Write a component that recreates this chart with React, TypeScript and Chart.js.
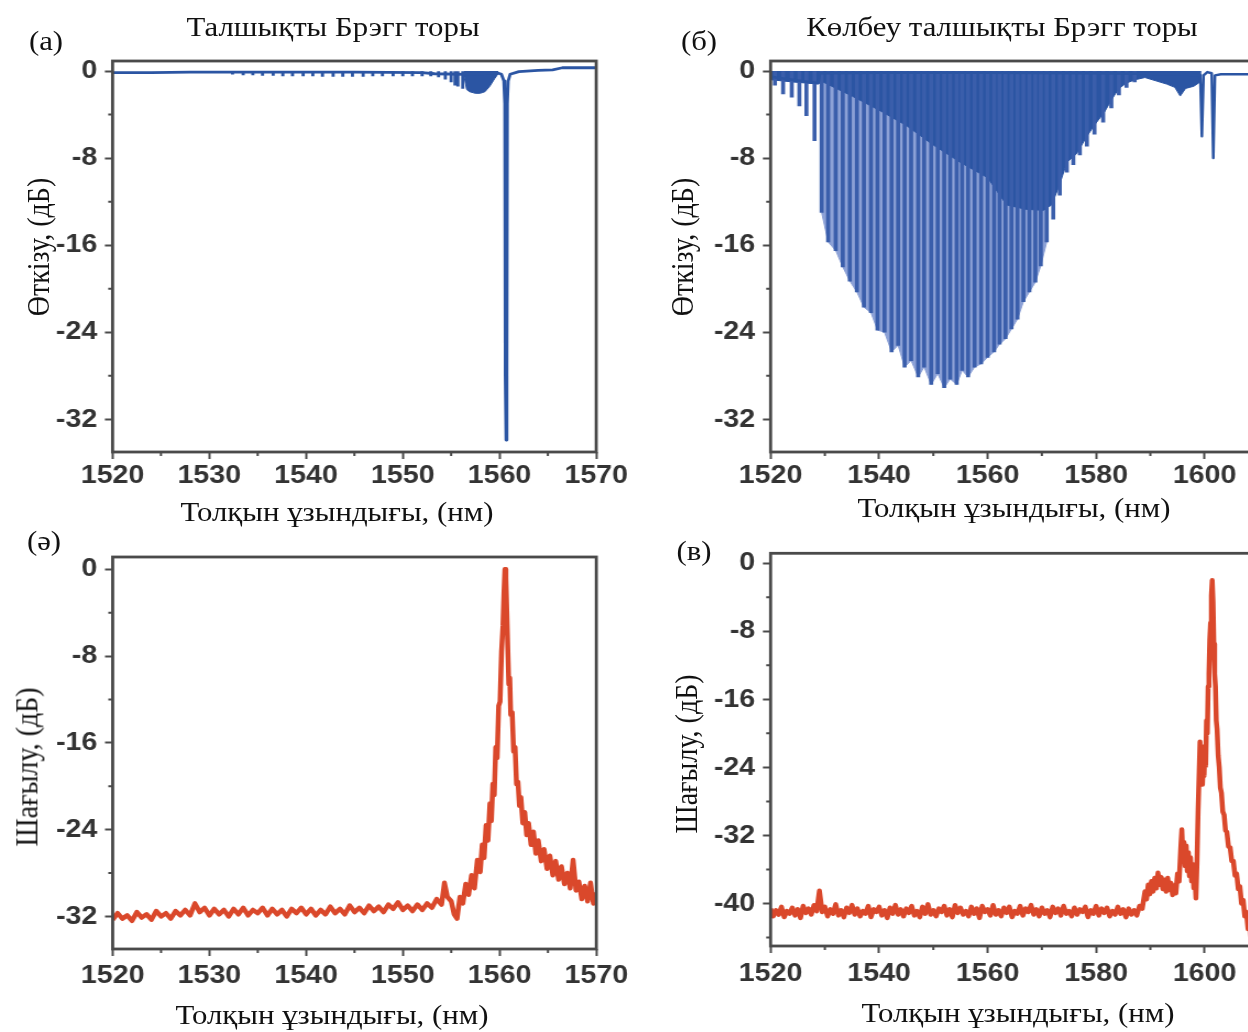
import React, { useEffect, useRef } from "react";
import { Chart, registerables } from "chart.js";

Chart.register(...registerables);

type Pt = [number, number];

// ---------------- ticks ----------------
const xTicksFbg = [1520, 1530, 1540, 1550, 1560, 1570];
const xMinorFbg = [1525, 1535, 1545, 1555, 1565];
const xTicksTfbg = [1520, 1540, 1560, 1580, 1600];
const xMinorTfbg = [1530, 1550, 1570, 1590, 1610];
const yTicks32 = [0, -8, -16, -24, -32];
const yMinor32 = [-4, -12, -20, -28];
const yTicks40 = [0, -8, -16, -24, -32, -40];
const yMinor40 = [-4, -12, -20, -28, -36, -44];

// ---------------- (а) FBG transmission ----------------
const fbgTrace: Pt[] = [
  [1520, -0.15], [1524, -0.15], [1528, -0.1], [1535, -0.1], [1545, -0.1], [1552, -0.15],
  [1553.3, -0.25], [1556.4, -0.3], [1559.9, -0.2], [1560.2, -0.3], [1560.45, -0.9],
  [1560.55, -3.0], [1560.6, -28], [1560.68, -33.9], [1560.76, -28], [1560.81, -3.0],
  [1560.9, -0.9], [1561.1, -0.3], [1562, -0.05], [1564, 0.05], [1565.5, 0.1], [1566.5, 0.3], [1570, 0.3],
];
const fbgCladdingDips: Pt[] = [
  [1532.4, -0.3], [1533.5, -0.35], [1534.5, -0.35], [1535.5, -0.4], [1536.6, -0.4], [1537.6, -0.45],
  [1538.6, -0.45], [1539.7, -0.45], [1540.7, -0.45], [1541.7, -0.5], [1542.8, -0.5], [1543.8, -0.5],
  [1544.8, -0.5], [1545.9, -0.5], [1546.9, -0.45], [1547.9, -0.45], [1549.0, -0.45], [1550.0, -0.45],
  [1551.0, -0.45], [1552.0, -0.45], [1552.9, -0.45], [1553.7, -0.55], [1554.4, -0.75], [1555.0, -1.0],
  [1555.4, -1.3], [1555.7, -1.4], [1556.2, -1.6],
];
const fbgModeBlob: Pt[] = [
  [1556.3, -0.3], [1556.6, -1.7], [1556.9, -1.9], [1557.5, -2.05], [1558.0, -2.05],
  [1558.5, -1.9], [1559.0, -1.4], [1559.5, -0.7], [1559.9, -0.2],
];

// ---------------- (б) TFBG transmission ----------------
const tfbgTrace: Pt[] = [
  [1520, -0.5], [1521, -0.6], [1524, -0.8], [1527, -1.0], [1528.8, -1.1], [1529.1, -0.2],
  [1540, -0.15], [1560, -0.15], [1580, -0.2], [1590, -0.25], [1595, -0.3], [1599.2, -0.4],
  [1599.5, -6.0], [1599.8, -0.4], [1600.5, -0.1], [1601.3, -0.2], [1601.6, -8.0], [1601.9, -0.4],
  [1603, -0.3], [1612, -0.3],
];
const tfbgLeftDips: Pt[] = [
  [1520.8, -1.3], [1522.3, -2.1], [1523.9, -2.4], [1525.3, -3.2], [1526.6, -4.1], [1528.1, -6.4],
];
const tfbgMainDips: Pt[] = [
  [1529.4, -13.0], [1530.6, -15.7], [1532.0, -16.5], [1533.3, -18.0], [1534.6, -19.3], [1535.9, -20.3],
  [1537.2, -21.7], [1538.5, -22.2], [1539.7, -23.8], [1541.0, -24.0], [1542.3, -25.8], [1543.5, -25.2],
  [1544.7, -27.2], [1545.9, -26.6], [1547.2, -28.1], [1548.3, -27.2], [1549.6, -28.8], [1550.8, -27.8],
  [1552.0, -29.1], [1553.1, -28.3], [1554.3, -28.8], [1555.3, -27.5], [1556.4, -28.1], [1557.6, -27.2],
  [1558.8, -26.9], [1560.0, -26.3], [1561.2, -25.8], [1562.2, -25.1], [1563.3, -24.6], [1564.4, -23.7],
  [1565.5, -22.8], [1566.6, -21.2], [1567.7, -20.3], [1568.8, -19.4], [1569.8, -17.9], [1570.9, -15.7],
];
const tfbgRightDips: Pt[] = [
  [1572.1, -13.6], [1573.3, -11.4], [1574.6, -9.3], [1575.8, -8.6], [1577.0, -7.7], [1578.3, -6.9],
  [1579.7, -5.8], [1581.3, -4.7], [1582.8, -3.4], [1584.2, -2.2], [1585.6, -1.5], [1587.1, -1.0],
];
const tfbgDenseModes: Pt[] = [
  [1520, -0.8], [1524, -1.0], [1528.8, -1.2], [1529.2, -0.9], [1535, -2.3], [1540, -3.6], [1545, -5.0],
  [1550, -6.8], [1555, -8.4], [1560, -9.8], [1563.5, -12.3], [1567, -12.7], [1570.3, -12.8], [1571.8, -12.3],
  [1573.3, -10.4], [1574.6, -8.4], [1576.4, -7.6], [1578.3, -6.0], [1579.8, -4.9], [1581.5, -3.8],
  [1582.9, -2.6], [1584.2, -1.6], [1585.6, -1.1], [1587.2, -0.8], [1589, -0.6], [1591, -0.9], [1593, -1.2],
  [1594.5, -1.5], [1595.5, -2.3], [1596.5, -1.6], [1598, -1.4], [1599.2, -1.0], [1599.4, -0.3],
];

// ---------------- (ә) FBG reflection ----------------
const reflFbg: Pt[] = [
  [1520, -32.3], [1520.5, -31.7], [1521, -32.2], [1521.5, -31.9], [1522, -32.4], [1522.5, -31.6],
  [1523, -32.1], [1523.5, -31.8], [1524, -32.3], [1524.5, -31.5], [1525, -32.0], [1525.5, -31.7],
  [1526, -32.2], [1526.5, -31.5], [1527, -31.9], [1527.5, -31.4], [1528, -31.9], [1528.5, -30.8],
  [1529, -31.6], [1529.5, -31.2], [1530, -31.9], [1530.5, -31.3], [1531, -31.8], [1531.5, -31.4],
  [1532, -32.0], [1532.5, -31.3], [1533, -31.8], [1533.5, -31.2], [1534, -31.9], [1534.5, -31.4],
  [1535, -31.7], [1535.5, -31.2], [1536, -31.9], [1536.5, -31.3], [1537, -31.8], [1537.5, -31.4],
  [1538, -32.0], [1538.5, -31.3], [1539, -31.7], [1539.5, -31.2], [1540, -31.8], [1540.5, -31.3],
  [1541, -31.9], [1541.5, -31.4], [1542, -31.8], [1542.5, -31.1], [1543, -31.7], [1543.5, -31.3],
  [1544, -31.8], [1544.5, -31.0], [1545, -31.6], [1545.5, -31.2], [1546, -31.7], [1546.5, -31.0],
  [1547, -31.5], [1547.5, -31.1], [1548, -31.6], [1548.5, -30.9], [1549, -31.3], [1549.5, -30.7],
  [1550, -31.4], [1550.5, -31.0], [1551, -31.5], [1551.5, -30.9], [1552, -31.4], [1552.5, -30.8],
  [1553, -31.2], [1553.5, -30.4], [1554, -30.9], [1554.3, -28.9], [1554.6, -30.2], [1555.0, -30.6],
  [1555.3, -31.8], [1555.6, -32.2], [1555.9, -30.2], [1556.2, -30.8], [1556.5, -29.0], [1556.8, -30.0],
  [1557.1, -28.2], [1557.4, -29.4], [1557.7, -26.8], [1558.0, -27.9], [1558.2, -25.4], [1558.4, -26.6],
  [1558.6, -23.6], [1558.8, -25.0], [1559.0, -21.6], [1559.15, -23.2], [1559.3, -19.8], [1559.45, -20.8],
  [1559.6, -16.4], [1559.75, -17.4], [1559.9, -12.6], [1560.05, -12.2], [1560.2, -7.6], [1560.35, -5.2],
  [1560.45, -2.2], [1560.55, 0.0], [1560.65, -0.8], [1560.75, -4.0], [1560.85, -7.4], [1560.95, -10.6],
  [1561.05, -10.0], [1561.15, -13.4], [1561.3, -13.2], [1561.45, -16.8], [1561.6, -16.4], [1561.75, -19.8],
  [1561.9, -19.6], [1562.05, -21.8], [1562.2, -21.0], [1562.4, -23.4], [1562.6, -22.4], [1562.8, -24.5],
  [1563.0, -23.4], [1563.25, -25.4], [1563.5, -24.2], [1563.75, -26.2], [1564.0, -25.0], [1564.3, -26.9],
  [1564.6, -25.8], [1564.9, -27.6], [1565.2, -26.4], [1565.5, -28.2], [1565.8, -26.9], [1566.1, -28.6],
  [1566.4, -27.4], [1566.7, -29.0], [1567.0, -28.0], [1567.3, -29.4], [1567.6, -26.8], [1567.9, -29.6],
  [1568.2, -28.8], [1568.5, -30.4], [1568.8, -29.2], [1569.1, -30.6], [1569.4, -28.9], [1569.7, -30.8],
  [1570.0, -29.8],
];

// ---------------- (в) TFBG reflection ----------------
const reflTfbg: Pt[] = [
  [1520, -40.6], [1520.5, -41.5], [1521, -40.8], [1521.5, -41.3], [1522, -40.4], [1522.5, -41.6],
  [1523, -40.9], [1523.5, -41.2], [1524, -40.5], [1524.5, -41.4], [1525, -40.7], [1525.5, -41.7],
  [1526, -40.3], [1526.5, -41.1], [1527, -40.6], [1527.5, -41.3], [1528, -40.2], [1528.5, -40.9],
  [1529, -38.5], [1529.5, -41.0], [1530, -40.4], [1530.5, -41.5], [1531, -40.7], [1531.5, -41.2],
  [1532, -40.1], [1532.5, -41.4], [1533, -40.8], [1533.5, -41.6], [1534, -40.5], [1534.5, -41.1],
  [1535, -40.2], [1535.5, -41.3], [1536, -40.6], [1536.5, -41.5], [1537, -40.9], [1537.5, -41.2],
  [1538, -40.3], [1538.5, -41.6], [1539, -40.7], [1539.5, -41.0], [1540, -40.4], [1540.5, -41.4],
  [1541, -40.8], [1541.5, -41.7], [1542, -40.5], [1542.5, -41.2], [1543, -40.2], [1543.5, -41.3],
  [1544, -40.7], [1544.5, -41.5], [1545, -40.6], [1545.5, -41.1], [1546, -40.3], [1546.5, -41.4],
  [1547, -40.9], [1547.5, -41.6], [1548, -40.4], [1548.5, -41.2], [1549, -40.1], [1549.5, -41.3],
  [1550, -40.8], [1550.5, -41.5], [1551, -40.6], [1551.5, -41.0], [1552, -40.3], [1552.5, -41.4],
  [1553, -40.7], [1553.5, -41.6], [1554, -40.2], [1554.5, -41.1], [1555, -40.5], [1555.5, -41.3],
  [1556, -40.9], [1556.5, -41.5], [1557, -40.4], [1557.5, -41.2], [1558, -40.6], [1558.5, -41.7],
  [1559, -40.3], [1559.5, -41.0], [1560, -40.7], [1560.5, -41.4], [1561, -40.2], [1561.5, -41.3],
  [1562, -40.8], [1562.5, -41.5], [1563, -40.5], [1563.5, -41.1], [1564, -40.4], [1564.5, -41.6],
  [1565, -40.9], [1565.5, -41.2], [1566, -40.3], [1566.5, -41.4], [1567, -40.6], [1567.5, -41.0],
  [1568, -40.2], [1568.5, -41.3], [1569, -40.7], [1569.5, -41.5], [1570, -40.5], [1570.5, -41.2],
  [1571, -40.8], [1571.5, -41.6], [1572, -40.4], [1572.5, -41.1], [1573, -40.6], [1573.5, -41.4],
  [1574, -40.3], [1574.5, -41.2], [1575, -40.9], [1575.5, -41.5], [1576, -40.5], [1576.5, -41.3],
  [1577, -40.7], [1577.5, -41.0], [1578, -40.4], [1578.5, -41.6], [1579, -40.8], [1579.5, -41.2],
  [1580, -40.3], [1580.5, -41.4], [1581, -40.6], [1581.5, -41.1], [1582, -40.5], [1582.5, -41.5],
  [1583, -40.9], [1583.5, -41.3], [1584, -40.4], [1584.5, -41.2], [1585, -40.7], [1585.5, -41.6],
  [1586, -40.6], [1586.5, -41.3], [1587, -40.8], [1587.5, -41.4], [1588, -40.3], [1588.5, -40.6],
  [1589, -38.6], [1589.3, -39.5], [1589.6, -37.8], [1589.9, -38.9], [1590.2, -37.4], [1590.5, -38.6],
  [1590.8, -37.0], [1591.1, -38.2], [1591.4, -36.4], [1591.7, -37.8], [1592.0, -36.9], [1592.3, -38.3],
  [1592.6, -37.2], [1592.9, -38.6], [1593.2, -37.0], [1593.5, -38.4], [1593.8, -37.6], [1594.1, -39.0],
  [1594.4, -37.9], [1594.7, -38.8], [1595.0, -36.5], [1595.3, -37.4], [1595.6, -33.5], [1595.8, -31.3],
  [1596.0, -34.5], [1596.2, -32.8], [1596.4, -35.6], [1596.6, -33.2], [1596.8, -36.2], [1597.0, -34.0],
  [1597.2, -36.8], [1597.4, -34.6], [1597.6, -37.4], [1597.8, -35.4], [1598.0, -38.2], [1598.2, -36.6],
  [1598.4, -39.4], [1598.6, -35.0], [1598.8, -29.0], [1599.0, -24.5], [1599.15, -21.0], [1599.3, -25.5],
  [1599.45, -23.0], [1599.6, -26.0], [1599.75, -23.5], [1599.9, -25.0], [1600.05, -21.5], [1600.2, -23.8],
  [1600.35, -18.5], [1600.5, -20.0], [1600.65, -14.5], [1600.8, -13.0], [1600.95, -9.0], [1601.1, -7.0],
  [1601.25, -3.8], [1601.4, -2.0], [1601.55, -4.5], [1601.7, -9.5], [1601.85, -13.0], [1602.0, -14.5],
  [1602.15, -18.5], [1602.3, -19.5], [1602.5, -22.6], [1602.7, -24.0], [1602.9, -26.4], [1603.1, -27.0],
  [1603.35, -29.2], [1603.6, -29.6], [1603.85, -31.4], [1604.1, -31.6], [1604.4, -33.3], [1604.7, -33.4],
  [1605.0, -35.0], [1605.3, -35.0], [1605.6, -36.7], [1605.9, -36.5], [1606.2, -38.3], [1606.5, -38.0],
  [1606.8, -40.0], [1607.1, -39.6], [1607.4, -41.5], [1607.7, -41.0], [1608.0, -43.0], [1608.3, -42.6],
  [1608.6, -44.0], [1609.0, -44.5], [1609.5, -45.5],
];

// ---------------- styling ----------------
const STRETCH = 1.1;
const FRAME = "#4a4a4a";
const BLUE_DARK = "#2b55a3";
const BLUE_BAR = "#3a5eab";
const BLUE_LIGHT = "#8ca1d6";
const RED = "#da482b";
const SANS = '"Liberation Sans", Arial, sans-serif';
const SERIF = '"Liberation Serif", "Times New Roman", serif';

const toXY = (pts: Pt[]) => pts.map(([x, y]) => ({ x, y }));

const lineDs = (pts: Pt[], color: string, width: number, order: number) => ({
  type: "line",
  data: toXY(pts),
  borderColor: color,
  borderWidth: width,
  pointRadius: 0,
  tension: 0,
  fill: false,
  borderJoinStyle: "round",
  order,
});
const fillDs = (pts: Pt[], color: string, order: number) => ({
  type: "line",
  data: toXY(pts),
  borderColor: color,
  borderWidth: 1,
  backgroundColor: color,
  pointRadius: 0,
  tension: 0,
  fill: { value: 0 },
  order,
});
const barDs = (pts: Pt[], color: string, thickness: number, order: number) => ({
  type: "bar",
  data: toXY(pts),
  backgroundColor: color,
  borderWidth: 0,
  barThickness: thickness,
  order,
});

type Spec = {
  left: number; top: number; width: number; height: number;
  area: { left: number; top: number; right: number; bottom: number };
  x: [number, number]; y: [number, number];
  xTicks: number[]; xMinor: number[]; yTicks: number[]; yMinor: number[];
  xLabelPad: number;
  datasets: any[];
};

const specs: Spec[] = [
  {
    left: 0, top: 0, width: 650, height: 505,
    area: { left: 112.6, top: 61, right: 596.3, bottom: 452 },
    x: [1520, 1570], y: [-35, 0.92],
    xTicks: xTicksFbg, xMinor: xMinorFbg, yTicks: yTicks32, yMinor: yMinor32, xLabelPad: 1,
    datasets: [
      fillDs(fbgModeBlob, BLUE_DARK, 3),
      barDs(fbgCladdingDips, BLUE_DARK, 2.2, 2),
      lineDs(fbgTrace, BLUE_DARK, 2.8, 1),
    ],
  },
  {
    left: 624, top: 0, width: 660, height: 505,
    area: { left: 770.6, top: 61, right: 1269.7, bottom: 452 },
    x: [1520, 1612], y: [-35, 0.92],
    xTicks: xTicksTfbg, xMinor: xMinorTfbg, yTicks: yTicks32, yMinor: yMinor32, xLabelPad: 1,
    datasets: [
      fillDs(tfbgMainDips, BLUE_LIGHT, 5),
      fillDs(tfbgDenseModes, BLUE_DARK, 4),
      barDs([...tfbgLeftDips, ...tfbgMainDips, ...tfbgRightDips], BLUE_BAR, 3, 3),
      lineDs(tfbgTrace, BLUE_DARK, 2.5, 1),
    ],
  },
  {
    left: 0, top: 505, width: 650, height: 527,
    area: { left: 112.7, top: 557, right: 596.4, bottom: 949 },
    x: [1520, 1570], y: [-35, 1.13],
    xTicks: xTicksFbg, xMinor: xMinorFbg, yTicks: yTicks32, yMinor: yMinor32, xLabelPad: 4,
    datasets: [lineDs(reflFbg, RED, 4.5, 1)],
  },
  {
    left: 624, top: 505, width: 660, height: 527,
    area: { left: 770.6, top: 553.3, right: 1269.7, bottom: 946 },
    x: [1520, 1612], y: [-45, 1.17],
    xTicks: xTicksTfbg, xMinor: xMinorTfbg, yTicks: yTicks40, yMinor: yMinor40, xLabelPad: 5,
    datasets: [lineDs(reflTfbg, RED, 4.5, 1)],
  },
];

const framePlugin = {
  id: "frame",
  afterDatasetsDraw(chart: any, _args: any, opts: any) {
    const { ctx, chartArea: a, scales } = chart;
    ctx.save();
    ctx.strokeStyle = FRAME;
    ctx.lineWidth = 2;
    ctx.beginPath();
    for (const v of opts.xMinor || []) {
      const px = scales.x.getPixelForValue(v);
      if (px < a.left || px > a.right) continue;
      ctx.moveTo(px, a.bottom);
      ctx.lineTo(px, a.bottom + 4);
    }
    for (const v of opts.yMinor || []) {
      const py = scales.y.getPixelForValue(v);
      if (py < a.top || py > a.bottom) continue;
      ctx.moveTo(a.left, py);
      ctx.lineTo(a.left - 4, py);
    }
    ctx.stroke();
    ctx.lineWidth = 2.8;
    ctx.strokeRect(a.left, a.top, a.right - a.left, a.bottom - a.top);
    ctx.restore();
  },
};

function ChartPanel({ spec }: { spec: Spec }) {
  const ref = useRef<HTMLCanvasElement>(null);
  const cw = Math.round(spec.width / STRETCH);
  useEffect(() => {
    const canvas = ref.current;
    if (!canvas) return;
    const areaL = (spec.area.left - spec.left) / STRETCH;
    const areaR = (spec.area.right - spec.left) / STRETCH;
    const padTop = spec.area.top - spec.top;
    const xAxisH = spec.top + spec.height - spec.area.bottom;
    const tickFont = { family: SANS, size: 26, weight: "bold" as const };
    const chart = new Chart(canvas, {
      type: "line",
      data: { datasets: spec.datasets as any },
      options: {
        responsive: false,
        animation: false,
        devicePixelRatio: 1,
        events: [],
        layout: { padding: { left: 0, top: padTop, right: cw - areaR, bottom: 0 } },
        plugins: {
          legend: { display: false },
          tooltip: { enabled: false },
          title: { display: false },
          frame: { xMinor: spec.xMinor, yMinor: spec.yMinor },
        } as any,
        scales: {
          x: {
            type: "linear",
            min: spec.x[0],
            max: spec.x[1],
            offset: false,
            bounds: "data",
            afterBuildTicks: (s: any) => { s.ticks = spec.xTicks.map((v) => ({ value: v })); },
            afterFit: (s: any) => { s.height = xAxisH; s.paddingLeft = 0; s.paddingRight = 0; },
            grid: { drawOnChartArea: false, drawTicks: true, tickLength: 7, tickWidth: 2, tickColor: FRAME, offset: false },
            border: { display: false },
            ticks: {
              font: tickFont, color: "#333", padding: spec.xLabelPad, maxRotation: 0, minRotation: 0,
              autoSkip: false, callback: (v: any) => String(v),
            },
          },
          y: {
            type: "linear",
            min: spec.y[0],
            max: spec.y[1],
            bounds: "data",
            afterBuildTicks: (s: any) => { s.ticks = spec.yTicks.map((v) => ({ value: v })); },
            afterFit: (s: any) => { s.width = areaL; s.paddingTop = 0; s.paddingBottom = 0; },
            grid: { drawOnChartArea: false, drawTicks: true, tickLength: 7, tickWidth: 2, tickColor: FRAME },
            border: { display: false },
            ticks: {
              font: tickFont, color: "#333", padding: 7, autoSkip: false,
              callback: (v: any) => String(v),
            },
          },
        } as any,
      },
      plugins: [framePlugin as any],
    });
    return () => chart.destroy();
  }, [spec, cw]);
  return (
    <canvas
      ref={ref}
      width={cw}
      height={spec.height}
      style={{ position: "absolute", left: spec.left, top: spec.top, width: cw * STRETCH, height: spec.height }}
    />
  );
}

type Label = { t: string; x: number; y: number; rot?: boolean; size?: number };
const labels: Label[] = [
  { t: "Талшықты Брэгг торы", x: 333, y: 27 },
  { t: "Көлбеу талшықты Брэгг торы", x: 1002, y: 27 },
  { t: "(а)", x: 46, y: 41 },
  { t: "(б)", x: 699, y: 41 },
  { t: "(ә)", x: 44, y: 541 },
  { t: "(в)", x: 694, y: 551 },
  { t: "Толқын ұзындығы, (нм)", x: 337, y: 512 },
  { t: "Толқын ұзындығы, (нм)", x: 1014, y: 508 },
  { t: "Толқын ұзындығы, (нм)", x: 332, y: 1015 },
  { t: "Толқын ұзындығы, (нм)", x: 1018, y: 1013 },
  { t: "Өткізу, (дБ)", x: 39, y: 247, rot: true },
  { t: "Өткізу, (дБ)", x: 683, y: 247, rot: true },
  { t: "Шағылу, (дБ)", x: 27, y: 767, rot: true },
  { t: "Шағылу, (дБ)", x: 687, y: 754, rot: true },
];

export default function App() {
  return (
    <div
      style={{
        position: "fixed", left: 0, top: 0, width: 1248, height: 1032,
        overflow: "hidden", background: "#ffffff",
      }}
    >
      {specs.map((s, i) => (
        <ChartPanel key={i} spec={s} />
      ))}
      {labels.map((l, i) => (
        <div
          key={"l" + i}
          style={{
            position: "absolute",
            left: l.x,
            top: l.y,
            fontFamily: SERIF,
            fontSize: l.size ?? 28,
            lineHeight: 1,
            color: "#111",
            whiteSpace: "nowrap",
            transform: l.rot
              ? `translate(-50%, -50%) scaleX(${STRETCH}) rotate(-90deg)`
              : `translate(-50%, -50%) scaleX(${STRETCH})`,
          }}
        >
          {l.t}
        </div>
      ))}
    </div>
  );
}
